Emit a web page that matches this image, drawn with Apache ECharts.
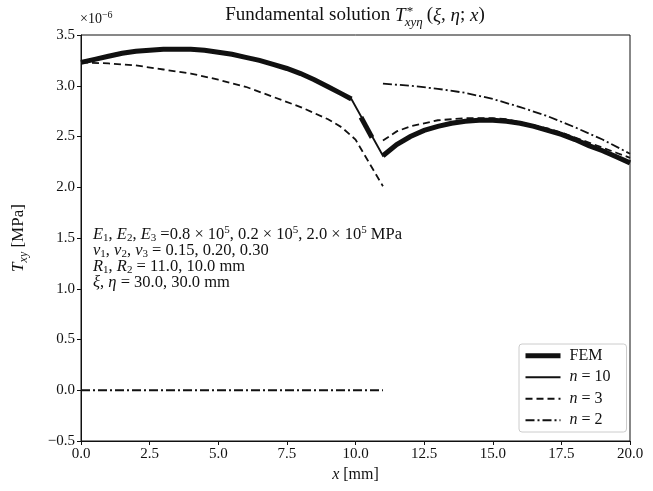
<!DOCTYPE html>
<html><head><meta charset="utf-8">
<script src="https://cdn.jsdelivr.net/npm/echarts@6/dist/echarts.min.js"></script>
<style>html,body{margin:0;padding:0;background:#fff}#c{width:653px;height:491px}</style>
</head><body><div id="c"></div>
<script>
// values in units of 1e-6 MPa
const femLeftX = [0, 0.5, 1, 1.5, 2, 2.5, 3, 3.5, 4, 4.5, 5, 5.5, 6, 6.5, 7, 7.5, 8, 8.5, 9, 9.5, 9.85];
const femLeftY = [3.23, 3.26, 3.29, 3.32, 3.34, 3.35, 3.36, 3.36, 3.36, 3.35, 3.33, 3.31, 3.28, 3.25, 3.21, 3.17, 3.12, 3.06, 2.99, 2.92, 2.87];
const femMidX = [10.2, 10.6];
const femMidY = [2.69, 2.49];
const femRightX = [11, 11.5, 12, 12.5, 13, 13.5, 14, 14.5, 15, 15.5, 16, 16.5, 17, 17.5, 18, 18.5, 19, 19.5, 20];
const femRightY = [2.31, 2.42, 2.50, 2.56, 2.60, 2.63, 2.65, 2.66, 2.66, 2.65, 2.63, 2.60, 2.56, 2.52, 2.47, 2.41, 2.36, 2.30, 2.24];
const n10X = femLeftX.concat(femRightX);
const n10Y = femLeftY.concat(femRightY);
const n3LeftX = [0, 1, 2, 3, 4, 5, 6, 7, 8, 9, 9.5, 10, 10.5, 11];
const n3LeftY = [3.23, 3.22, 3.20, 3.16, 3.12, 3.06, 2.99, 2.89, 2.79, 2.67, 2.59, 2.47, 2.24, 2.01];
const n3RightX = [11, 11.5, 12, 12.5, 13, 13.5, 14, 14.5, 15, 15.5, 16, 16.5, 17, 17.5, 18, 18.5, 19, 19.5, 20];
const n3RightY = [2.46, 2.55, 2.60, 2.63, 2.66, 2.67, 2.68, 2.68, 2.68, 2.67, 2.64, 2.61, 2.58, 2.54, 2.49, 2.44, 2.39, 2.34, 2.29];
const n2LeftX = [0, 11];
const n2LeftY = [0, 0];
const n2RightX = [11, 12, 13, 14, 15, 16, 17, 18, 19, 20];
const n2RightY = [3.02, 3.00, 2.97, 2.93, 2.87, 2.79, 2.70, 2.59, 2.47, 2.33];
const legendNames = ['FEM', 'n10', 'n3', 'n2'];
const legendLabels = ['FEM', '{i|n} = 10', '{i|n} = 3', '{i|n} = 2'];

const zip = (a, b) => a.map((v, i) => [v, b[i]]);
const FONT = 'Liberation Serif';
const INK = '#111';
const dashed = [7, 4];
const dashdot = [9, 3, 2, 3];
const THIN = 1.8;

// measure text to stack sub/superscripts in the title
const mctx = document.createElement('canvas').getContext('2d');
function tw(t, size, italic) {
  mctx.font = (italic ? 'italic ' : '') + size + 'px "' + FONT + '"';
  return mctx.measureText(t).width;
}
function mathText(pieces, cx, baseY, anchor) {
  let total = 0;
  const xs = [];
  for (let k = 0; k < pieces.length; k++) {
    const p = pieces[k];
    const w = tw(p.t, p.size, p.it);
    xs.push(total + (p.dx || 0));
    if (p.stack) {
      const q = pieces[k + 1];
      const w2 = tw(q.t, q.size, q.it);
      xs.push(total + (q.dx || 0));
      total += Math.max(w, w2) + (q.after || 0);
      k++;
    } else {
      total += w + (p.after || 0);
    }
  }
  const x0 = anchor === 'center' ? cx - total / 2 : cx;
  return pieces.map((p, k) => ({
    type: 'text', x: x0 + xs[k], y: baseY + (p.dy || 0), silent: true,
    style: {text: p.t, fontFamily: FONT, fontSize: p.size, fontStyle: p.it ? 'italic' : 'normal',
      fill: INK, verticalAlign: 'bottom'}
  }));
}

const titleEls = mathText([
  {t: 'Fundamental solution ', size: 19},
  {t: 'T', size: 19, it: true},
  {t: '*', size: 13, dy: -7, stack: true, dx: 1},
  {t: 'xyη', size: 13, it: true, dy: 4, after: 3, dx: -1},
  {t: '(', size: 19},
  {t: 'ξ', size: 19, it: true},
  {t: ', ', size: 19},
  {t: 'η', size: 19, it: true},
  {t: '; ', size: 19},
  {t: 'x', size: 19, it: true},
  {t: ')', size: 19}
], 355, 25, 'center');

const expEls = mathText([
  {t: '×10', size: 14},
  {t: '−6', size: 10, dy: -6}
], 80, 26, 'left');

const chart = echarts.init(document.getElementById('c'), null, {renderer: 'canvas'});

function line(name, xs, ys, width, type) {
  return {
    name: name, type: 'line', data: zip(xs, ys), symbol: 'none', smooth: false,
    lineStyle: {color: INK, width: width, type: type, cap: 'butt', join: 'miter'},
    itemStyle: {color: INK}, emphasis: {disabled: true}, animation: false, z: 3
  };
}

const annRich = {
  i: {fontStyle: 'italic', fontFamily: FONT, fontSize: 16.5, fill: INK},
  s: {fontFamily: FONT, fontSize: 11, verticalAlign: 'bottom', lineHeight: 11},
  p: {fontFamily: FONT, fontSize: 11, verticalAlign: 'top', lineHeight: 11}
};
function ann(text, top) {
  return {type: 'text', left: 93, top: top, silent: true, style: {
    text: text, font: '16.5px "Liberation Serif"', fill: INK, lineHeight: 19, rich: annRich}};
}

chart.setOption({
  animation: false,
  grid: {left: 79, right: 23, top: 35, bottom: 50, show: true, borderColor: INK, borderWidth: 1, backgroundColor: 'transparent'},
  xAxis: {
    type: 'value', min: 0, max: 20, interval: 2.5,
    name: '{i|x} [mm]', nameLocation: 'middle', nameGap: 26,
    nameTextStyle: {fontFamily: FONT, fontSize: 16, color: INK,
      rich: {i: {fontFamily: FONT, fontSize: 16, fontStyle: 'italic', color: INK}}},
    axisLine: {onZero: false, lineStyle: {color: INK, width: 1}},
    axisTick: {show: true, length: 4, lineStyle: {color: INK}},
    axisLabel: {fontFamily: FONT, fontSize: 15, color: INK, margin: 6, formatter: v => v.toFixed(1)},
    splitLine: {show: false}
  },
  yAxis: {
    type: 'value', min: -0.5, max: 3.5, interval: 0.5,
    name: '{i|T}{sub|xy} [MPa]', nameLocation: 'middle', nameGap: 51, nameRotate: 90,
    nameTextStyle: {fontFamily: FONT, fontSize: 17, color: INK, lineHeight: 22,
      rich: {
        i: {fontFamily: FONT, fontSize: 17, fontStyle: 'italic', color: INK},
        sub: {fontFamily: FONT, fontSize: 12, fontStyle: 'italic', color: INK, verticalAlign: 'bottom', lineHeight: 12}
      }},
    axisLine: {show: true, onZero: false, lineStyle: {color: INK, width: 1}},
    axisTick: {show: true, length: 4, lineStyle: {color: INK}},
    axisLabel: {fontFamily: FONT, fontSize: 15, color: INK, margin: 6,
      formatter: v => (v < 0 ? '\u2212' + Math.abs(v).toFixed(1) : v.toFixed(1))},
    splitLine: {show: false}
  },
  legend: {
    data: [
      {name: 'FEM', lineStyle: {width: 5}},
      {name: 'n10', lineStyle: {width: THIN}},
      {name: 'n3', lineStyle: {width: THIN}},
      {name: 'n2', lineStyle: {width: THIN}}
    ],
    orient: 'vertical', left: 519, top: 344,
    backgroundColor: '#fff', borderColor: '#ccc', borderWidth: 1, borderRadius: 3,
    padding: [3, 16, 3, 4], itemGap: 4, itemWidth: 35, itemHeight: 14,
    itemStyle: {color: 'rgba(0,0,0,0)', borderWidth: 0, opacity: 0},
    formatter: name => legendLabels[legendNames.indexOf(name)],
    textStyle: {fontFamily: FONT, fontSize: 16, color: INK, padding: [0, 0, 0, 4], lineHeight: 17.5,
      rich: {i: {fontFamily: FONT, fontSize: 16, fontStyle: 'italic', color: INK}}},
    selectedMode: false
  },
  graphic: titleEls.concat(expEls).concat([
    ann('{i|E}{s|1}, {i|E}{s|2}, {i|E}{s|3} =0.8 × 10{p|5}, 0.2 × 10{p|5}, 2.0 × 10{p|5} MPa', 225),
    ann('{i|ν}{s|1}, {i|ν}{s|2}, {i|ν}{s|3} = 0.15, 0.20, 0.30', 241),
    ann('{i|R}{s|1}, {i|R}{s|2} = 11.0, 10.0 mm', 257),
    ann('{i|ξ}, {i|η} = 30.0, 30.0 mm', 273)
  ]),
  series: [
    line('FEM', femLeftX, femLeftY, 5, 'solid'),
    line('FEM', femMidX, femMidY, 5, 'solid'),
    line('FEM', femRightX, femRightY, 5, 'solid'),
    line('n10', n10X, n10Y, THIN, 'solid'),
    line('n3', n3LeftX, n3LeftY, THIN, dashed),
    line('n3', n3RightX, n3RightY, THIN, dashed),
    line('n2', n2LeftX, n2LeftY, THIN, dashdot),
    line('n2', n2RightX, n2RightY, THIN, dashdot)
  ]
});
</script></body></html>
